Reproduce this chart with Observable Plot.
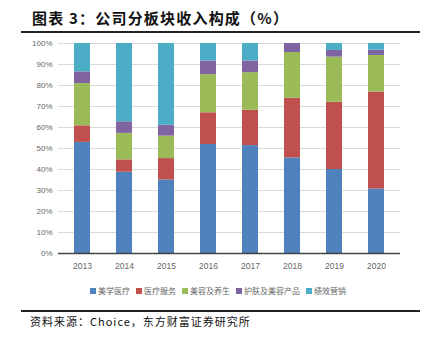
<!DOCTYPE html>
<html>
<head>
<meta charset="utf-8">
<script src="https://cdn.jsdelivr.net/npm/d3@7"></script>
<script src="https://cdn.jsdelivr.net/npm/@observablehq/plot@0.6"></script>
<style>
  html, body { margin: 0; padding: 0; background: #fff; }
  #wrap { position: relative; width: 434px; height: 341px; overflow: hidden; font-family: "Noto Sans CJK SC", "Noto Sans", sans-serif; }
  #title { position: absolute; left: 32px; top: 7px; font-size: 15px; font-weight: 700; color: #111; white-space: nowrap; letter-spacing: 1.2px; }
  .rule { position: absolute; left: 21px; width: 399px; height: 1.5px; background: #222; }
  #chart { position: absolute; left: 0; top: 35px; }
  #legend { position: absolute; left: 90px; top: 285px; display: flex; gap: 6px; font-size: 8px; color: #666; white-space: nowrap; align-items: center; }
  #legend .item { display: flex; align-items: center; }
  #legend .sw { width: 6px; height: 6px; margin-right: 2px; }
  #source { position: absolute; left: 30px; top: 313px; font-size: 11px; color: #111; white-space: nowrap; letter-spacing: 1px; }
</style>
</head>
<body>
<div id="wrap">
  <div id="title">图表 3：公司分板块收入构成（%）</div>
  <div class="rule" style="top:31px"></div>
  <div id="chart"></div>
  <div id="legend"></div>
  <div class="rule" style="top:310px"></div>
  <div id="source">资料来源：Choice，东方财富证券研究所</div>
</div>
<script>
const years = ["2013", "2014", "2015", "2016", "2017", "2018", "2019", "2020"];
const series = ["美学医疗", "医疗服务", "美容及养生", "护肤及美容产品", "绩效营销"];
const colors = ["#4F81BD", "#C0504D", "#9BBB59", "#8064A2", "#4BACC6"];
const aesthetic = [52.9, 38.7, 35.0, 51.9, 51.4, 45.5, 40.0, 30.7];
const medical   = [7.9, 5.9, 10.2, 15.1, 16.8, 28.4, 32.0, 46.2];
const beauty    = [20.1, 12.6, 10.7, 18.2, 17.9, 21.8, 21.5, 17.4];
const skincare  = [5.6, 5.5, 5.2, 6.5, 5.6, 4.3, 3.2, 2.5];
const marketing = [13.5, 37.3, 38.9, 8.3, 8.3, 0.0, 3.3, 3.2];
const yTicks = [0, 10, 20, 30, 40, 50, 60, 70, 80, 90, 100];

const seriesValues = [aesthetic, medical, beauty, skincare, marketing];
const data = [];
series.forEach((s, i) => years.forEach((y, j) => data.push({year: y, series: s, value: seriesValues[i][j]})));

const chart = Plot.plot({
  width: 434,
  height: 240,
  marginLeft: 58,
  marginRight: 34,
  marginTop: 8,
  marginBottom: 22,
  style: { fontFamily: "Liberation Sans, Arial, sans-serif", background: "#fff" },
  x: { domain: years, paddingInner: 0.625, paddingOuter: 0.3125, label: null },
  y: { domain: [0, 100], label: null },
  color: { domain: series, range: colors },
  marks: [
    Plot.gridY(yTicks, { stroke: "#d9d9d9", strokeOpacity: 1, strokeWidth: 1 }),
    Plot.barY(data, Plot.stackY({ order: series }, { x: "year", y: "value", fill: "series" })),
    Plot.axisY(yTicks, { tickSize: 0, tickPadding: 6, tickFormat: d => d + "%", fontSize: 8, fill: "#666", label: null }),
    Plot.axisX({ tickSize: 0, tickPadding: 9, fontSize: 8.5, fill: "#666", label: null }),
    Plot.ruleX([0], { frameAnchor: "left", stroke: "#444", strokeWidth: 1.5 }),
    Plot.ruleY([0], { stroke: "#444", strokeWidth: 1.5 })
  ]
});
document.getElementById("chart").appendChild(chart);

const legend = document.getElementById("legend");
series.forEach((s, i) => {
  const item = document.createElement("div");
  item.className = "item";
  const sw = document.createElement("span");
  sw.className = "sw";
  sw.style.background = colors[i];
  const t = document.createElement("span");
  t.textContent = s;
  item.appendChild(sw);
  item.appendChild(t);
  legend.appendChild(item);
});
</script>
</body>
</html>
